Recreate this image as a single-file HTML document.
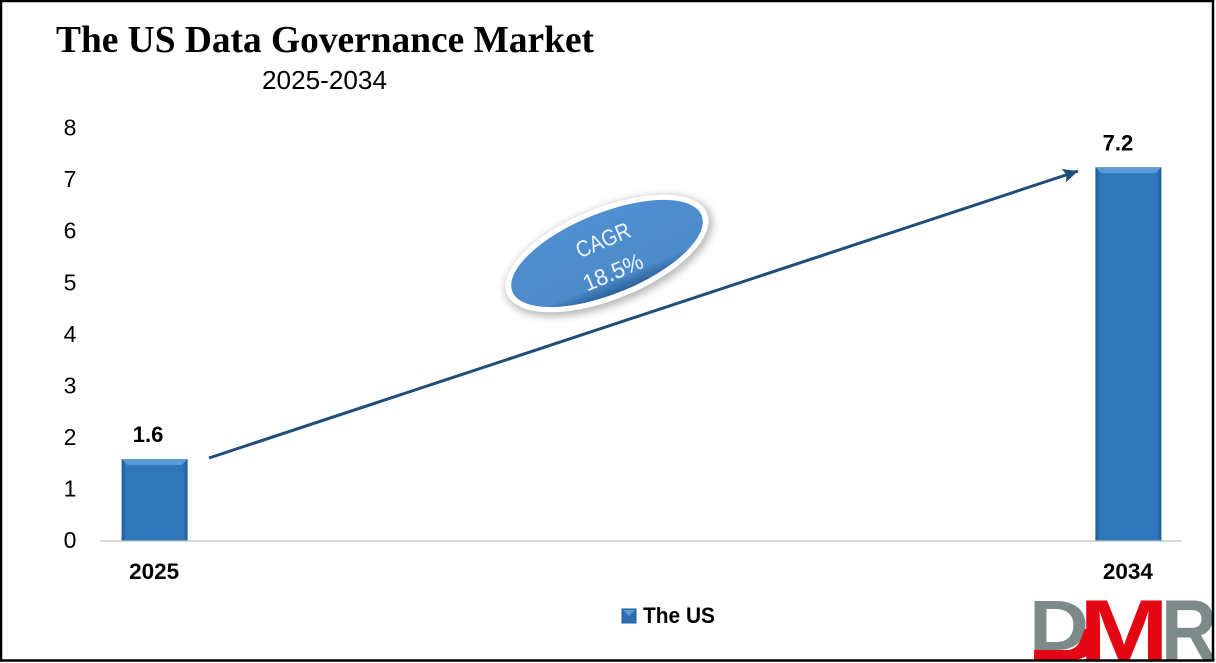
<!DOCTYPE html>
<html lang="en">
<head>
<meta charset="utf-8">
<title>The US Data Governance Market</title>
<style>
html,body{margin:0;padding:0;background:#fff;width:1216px;height:663px;overflow:hidden}
svg{display:block}
text{font-family:"Liberation Sans",sans-serif;fill:#000}
</style>
</head>
<body>
<svg id="chart" xmlns="http://www.w3.org/2000/svg" width="1216" height="663" viewBox="0 0 1216 663">
  <defs>
    <linearGradient id="barFill" x1="0" x2="1" y1="0" y2="0">
      <stop offset="0" stop-color="#1d5a93"/>
      <stop offset="0.07" stop-color="#2f76ba"/>
      <stop offset="0.93" stop-color="#2f76ba"/>
      <stop offset="1" stop-color="#1d5a93"/>
    </linearGradient>
    <linearGradient id="ovalFill" x1="0" x2="0" y1="0" y2="1">
      <stop offset="0" stop-color="#4f8fd0"/>
      <stop offset="0.82" stop-color="#4d8bc9"/>
      <stop offset="1" stop-color="#2a619b"/>
    </linearGradient>
    <filter id="blur" x="-20%" y="-30%" width="140%" height="160%"><feGaussianBlur stdDeviation="4"/></filter>
    <marker id="arrowHead" markerUnits="userSpaceOnUse" markerWidth="18" markerHeight="16" refX="15" refY="7" orient="auto">
      <path d="M0 0L15 7L0 14L3 7Z" fill="#1f4e79"/>
    </marker>
  </defs>

  <rect x="0" y="0" width="1216" height="663" fill="#fff"/>

  <text x="56" y="52" font-size="38" font-weight="700" textLength="538" lengthAdjust="spacingAndGlyphs" style="font-family:'Liberation Serif',serif">The US Data Governance Market</text>
  <text x="262" y="89" font-size="26" textLength="125" lengthAdjust="spacingAndGlyphs">2025-2034</text>

  <g id="yTicks"></g>
  <line x1="100" x2="1182" y1="541" y2="541" stroke="#d9d9d9" stroke-width="2"/>
  <g id="bars"></g>
  <g id="xTicks"></g>

  <line x1="209" y1="458" x2="1078" y2="171" stroke="#1f4e79" stroke-width="3" marker-end="url(#arrowHead)"/>

  <g>
    <ellipse cx="609" cy="256" rx="110" ry="48" transform="rotate(-22 609 256)" fill="#8a8a8a" opacity="0.6" filter="url(#blur)"/>
    <ellipse cx="607" cy="253.5" rx="108" ry="46" transform="rotate(-22 607 253.5)" fill="#fff"/>
    <ellipse cx="607" cy="253.5" rx="102" ry="40.5" transform="rotate(-22 607 253.5)" fill="url(#ovalFill)"/>
    <text x="603" y="248" font-size="23" text-anchor="middle" textLength="57" lengthAdjust="spacingAndGlyphs" transform="rotate(-23 603 240)" style="fill:#eef4fb">CAGR</text>
    <text x="613" y="280" font-size="23" text-anchor="middle" textLength="63" lengthAdjust="spacingAndGlyphs" transform="rotate(-23 613 272)" style="fill:#eef4fb">18.5%</text>
  </g>

  <g>
    <rect x="622" y="609" width="14" height="14" fill="#2f6fae" stroke="#1f5f99"/>
    <path d="M623 610H635L629 616Z" fill="#5b9bd5"/>
    <text x="643" y="623" font-size="22" font-weight="700" textLength="72" lengthAdjust="spacingAndGlyphs">The US</text>
  </g>

  <g>
    <text x="1029" y="650" font-size="71" font-weight="700" textLength="60" lengthAdjust="spacingAndGlyphs" style="fill:#7c8a8a">D</text>
    <text x="1161" y="660" font-size="86" font-weight="700" textLength="56" lengthAdjust="spacingAndGlyphs" style="fill:#7c8a8a">R</text>
    <text x="1079" y="660" font-size="86" font-weight="700" textLength="90" lengthAdjust="spacingAndGlyphs" style="fill:#e30613">M</text>
    <path d="M1034 650H1066C1076 650 1080 644 1084 630L1092 625L1100 640C1094 654 1084 660 1070 660H1034Z" fill="#e30613"/>
  </g>

  <rect x="1" y="1" width="1212" height="659.5" fill="none" stroke="#000" stroke-width="2.5"/>
</svg>

<script>
var categories = [2025, 2034];
var seriesValues = [1.58, 7.24];
var yTickLabels = [0, 1, 2, 3, 4, 5, 6, 7, 8];
var labelShift = [-6, -10];

var NS = 'http://www.w3.org/2000/svg';
function yScale(v) { return 540.5 - v * 51.55; }
function xScale(year) { return 100 + (year - 2025 + 0.5) * 108.2; }
function make(tag, parent) {
  var el = document.createElementNS(NS, tag);
  parent.appendChild(el);
  return el;
}

var yGroup = document.getElementById('yTicks');
yTickLabels.forEach(function (t) {
  var el = make('text', yGroup);
  
  
  el.setAttribute('x', 70);
  el.setAttribute('y', yScale(t) + 7.5);
  el.setAttribute('font-size', 23);
  el.setAttribute('text-anchor', 'middle');
  el.textContent = t;
});

var barGroup = document.getElementById('bars');
var xGroup = document.getElementById('xTicks');
var BAR_W = 66;
categories.forEach(function (c, i) {
  var cx = xScale(c);
  var left = cx - BAR_W / 2 + 0.5;
  var right = cx + BAR_W / 2 + 0.5;
  var top = yScale(seriesValues[i]);
  var base = yScale(0);

  var bar = make('rect', barGroup);
  
  
  bar.setAttribute('x', left);
  bar.setAttribute('y', top);
  bar.setAttribute('width', BAR_W);
  bar.setAttribute('height', base - top);
  bar.setAttribute('fill', 'url(#barFill)');

  var bevel = make('polygon', barGroup);
  
  
  bevel.setAttribute('points', left + ',' + top + ' ' + right + ',' + top + ' ' + (right - 6) + ',' + (top + 6) + ' ' + (left + 6) + ',' + (top + 6));
  bevel.setAttribute('fill', '#5b9bd5');

  var value = make('text', barGroup);
  
  
  value.setAttribute('x', cx + labelShift[i]);
  value.setAttribute('y', top - 17);
  value.setAttribute('font-size', 22);
  value.setAttribute('font-weight', '700');
  value.setAttribute('text-anchor', 'middle');
  value.textContent = seriesValues[i].toFixed(1);

  var tick = make('text', xGroup);
  
  
  tick.setAttribute('x', cx);
  tick.setAttribute('y', 579);
  tick.setAttribute('font-size', 22.5);
  tick.setAttribute('font-weight', '700');
  tick.setAttribute('text-anchor', 'middle');
  tick.textContent = c;
});
</script>
</body>
</html>
